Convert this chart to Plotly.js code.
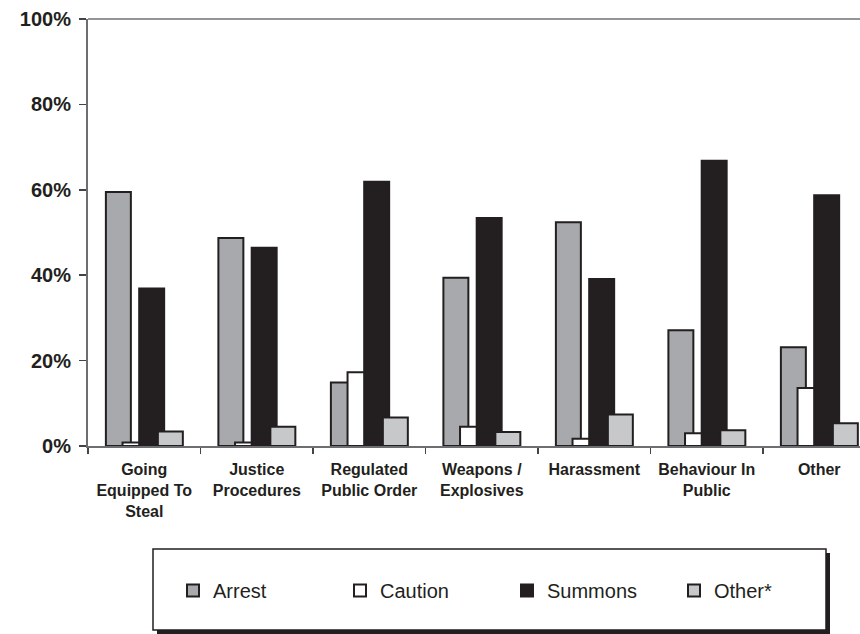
<!DOCTYPE html>
<html>
<head>
<meta charset="utf-8">
<script src="https://cdn.plot.ly/plotly-3.0.1.min.js"></script>
<style>html,body{margin:0;padding:0;background:#fff;}#chart{width:860px;height:634px;}</style>
</head>
<body>
<div id="chart"></div>
<script>
var categories = ["Going<br>Equipped To<br>Steal", "Justice<br>Procedures", "Regulated<br>Public Order", "Weapons /<br>Explosives", "Harassment", "Behaviour In<br>Public", "Other"];
var seriesNames = ["Arrest", "Caution", "Summons", "Other*"];
var arrest  = [59.5, 48.7, 14.9, 39.4, 52.4, 27.1, 23.1];
var caution = [0.8, 0.8, 17.3, 4.5, 1.7, 3.0, 13.6];
var summons = [36.9, 46.4, 61.9, 53.4, 39.1, 66.8, 58.7];
var other   = [3.4, 4.5, 6.7, 3.3, 7.4, 3.7, 5.3];
var yTicks = [0, 20, 40, 60, 80, 100];

var values = [arrest, caution, summons, other];
var fills = ["#a7a9ac", "#ffffff", "#231f20", "#c7c8ca"];
var offsets = [-0.341, -0.193, -0.045, 0.121];
var barWidth = 0.222;

var traces = values.map(function(v, i) {
  return {
    type: "bar",
    name: seriesNames[i],
    x: categories,
    y: v,
    offset: offsets[i],
    width: barWidth,
    marker: {color: fills[i], line: {color: "#231f20", width: 2}},
    hoverinfo: "y"
  };
});

var pl = 88, pr = 860, pt = 19, pb = 446;
var pw = pr - pl, ph = pb - pt;
function px(x) { return (x - pl) / pw; }
function py(y) { return (pb - y) / ph; }

var layout = {
  width: 860, height: 634,
  margin: {l: pl, r: 860 - pr, t: pt, b: 634 - pb},
  paper_bgcolor: "#ffffff", plot_bgcolor: "#ffffff",
  barmode: "overlay",
  font: {family: "Liberation Sans, Arial, sans-serif", color: "#231f20"},
  xaxis: {
    type: "category",
    range: [-0.5, -0.5 + pw / 112.5],
    showline: true, linecolor: "#6d6e71", linewidth: 2,
    ticks: "outside", tickson: "boundaries", ticklen: 6, tickwidth: 1.5, tickcolor: "#444",
    ticklabelstandoff: 8,
    tickfont: {size: 16, weight: 700, color: "#231f20"},
    showgrid: false, zeroline: false, fixedrange: true
  },
  yaxis: {
    range: [0, 100],
    tickvals: yTicks, ticktext: yTicks.map(function(t){ return t + "%"; }),
    showline: true, linecolor: "#6d6e71", linewidth: 2,
    ticks: "outside", ticklen: 7, tickwidth: 1.5, tickcolor: "#444",
    ticklabelstandoff: 4,
    tickfont: {size: 20, weight: 700, color: "#231f20"},
    showgrid: false, zeroline: false, fixedrange: true
  },
  showlegend: true,
  legend: {
    orientation: "h",
    x: px(173), xanchor: "left",
    y: py(571), yanchor: "top",
    bgcolor: "rgba(0,0,0,0)", borderwidth: 0,
    font: {size: 20, color: "#231f20"},
    entrywidthmode: "pixels", entrywidth: 122,
    traceorder: "normal"
  },
  shapes: [
    {type: "line", xref: "paper", yref: "paper", x0: 0, x1: 1, y0: 1, y1: 1, line: {color: "#939598", width: 2}},
    {type: "rect", xref: "paper", yref: "paper", x0: px(157), x1: px(830), y0: py(553), y1: py(634), fillcolor: "#231f20", line: {width: 0}},
    {type: "rect", xref: "paper", yref: "paper", x0: px(153), x1: px(826), y0: py(549), y1: py(630), fillcolor: "#ffffff", line: {color: "#231f20", width: 1.5}}
  ]
};

Plotly.newPlot("chart", traces, layout, {displayModeBar: false, staticPlot: true});
</script>
</body>
</html>
